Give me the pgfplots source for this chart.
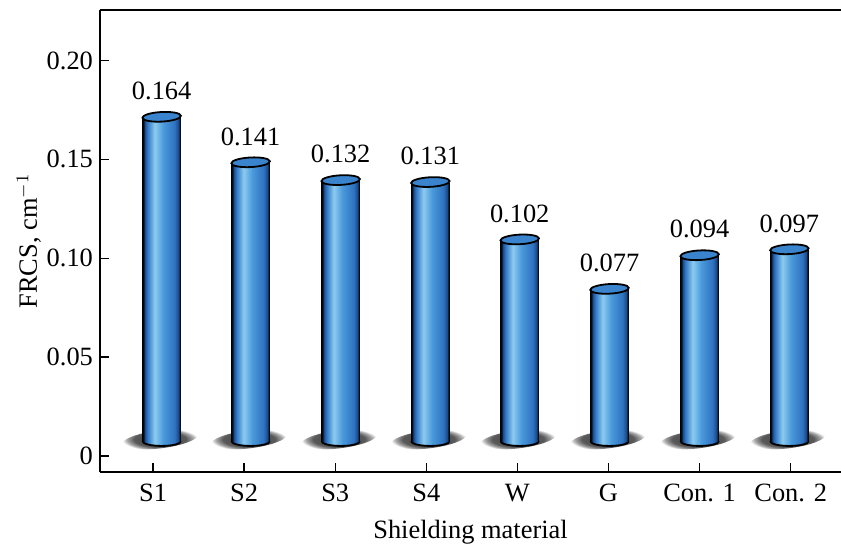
\documentclass[border=0pt]{standalone}
\usepackage{fontspec}
\setmainfont{Liberation Serif}
\usepackage{pgfplots}
\usepackage{pgfplotstable}
\pgfplotsset{compat=1.18}

% cylinder colours
\definecolor{cedge}{HTML}{1A4886}
\definecolor{cone}{HTML}{2C72C2}
\definecolor{chl}{HTML}{8CCBF0}
\definecolor{ctwo}{HTML}{4A9ADB}
\definecolor{cthree}{HTML}{2E72C0}
\definecolor{ctop}{HTML}{3A84CD}

% left-to-right shading of the cylinder wall (black rims, highlight left of centre)
\pgfdeclarehorizontalshading{cylbody}{100bp}{%
  color(0bp)=(black); color(25bp)=(black); color(26.6bp)=(black!75!cedge);
  color(28bp)=(cedge); color(31bp)=(cone); color(41bp)=(chl); color(52bp)=(ctwo);
  color(67bp)=(cthree); color(72bp)=(cedge); color(73.4bp)=(black!75!cedge);
  color(75bp)=(black); color(100bp)=(black)}
% soft floor shadow
\pgfdeclareradialshading{cylshadow}{\pgfpoint{0bp}{0bp}}{%
  color(0bp)=(black!75); color(17bp)=(black!65); color(21.5bp)=(black!35);
  color(25bp)=(white); color(50bp)=(white)}

\newcommand{\cylr}{9.62pt}% half the cylinder width
\newcommand{\cylry}{2.4pt}% half height of the elliptic rims

% floor shadow plus lower rim of the cylinder
\pgfdeclareplotmark{cylbase}{%
  \pgfscope
    \pgftransformshift{\pgfqpoint{-0.8pt}{0.9pt}}%
    \pgftransformrotate{7}%
    \pgfpathellipse{\pgfpointorigin}{\pgfqpoint{19pt}{0pt}}{\pgfqpoint{0pt}{4.5pt}}%
    \pgfshadepath{cylshadow}{0}%
    \pgfusepath{discard}%
  \endpgfscope
  \pgfscope
    \pgfpathellipse{\pgfpointorigin}{\pgfqpoint{\cylr}{0pt}}{\pgfqpoint{0pt}{\cylry}}%
    \pgfshadepath{cylbody}{0}%
    \pgfusepath{discard}%
  \endpgfscope
  \pgfscope
    \pgfsetstrokecolor{black}\pgfsetlinewidth{0.9pt}%
    \pgfpathmoveto{\pgfqpoint{-\cylr}{0pt}}%
    \pgfpatharc{180}{360}{\cylr and \cylry}%
    \pgfusepath{stroke}%
  \endpgfscope
}
% cylinder wall hanging down by the value \vv (in y units), then the lid
\pgfdeclareplotmark{cylwall}{%
  \pgfmathparse{\vv*\pgfplotsunitylength}\let\cylh\pgfmathresult
  \pgfscope
    \pgfpathrectanglecorners{\pgfqpoint{-\cylr}{-\cylh pt}}{\pgfqpoint{\cylr}{0pt}}%
    \pgfshadepath{cylbody}{0}%
    \pgfusepath{discard}%
  \endpgfscope
  \pgfscope
    \pgftransformrotate{3}%
    \pgfpathellipse{\pgfpointorigin}{\pgfqpoint{\cylr}{0pt}}{\pgfqpoint{0pt}{\cylry}}%
    \pgfsetfillcolor{ctop}\pgfsetstrokecolor{black}\pgfsetlinewidth{0.9pt}%
    \pgfusepath{fill,stroke}%
  \endpgfscope
}

% xb: bar centre, base: floor level of the cylinders, v: FRCS
\pgfplotstableread{
xb     base    v
0.095  0.0075  0.164
1.071  0.0075  0.141
2.060  0.0075  0.132
3.044  0.0075  0.131
4.025  0.0075  0.102
5.011  0.0075  0.077
6.000  0.0075  0.094
6.985  0.0075  0.097
}\frcs

\newcommand{\lbl}{\fontsize{13.2}{16}\selectfont}

\begin{document}
\begin{tikzpicture}
\begin{axis}[
  name=ax, disabledatascaling,
  scale only axis, width=370.5pt, height=231pt,
  xmin=-0.582, xmax=7.552, ymin=-0.0081, ymax=0.2255,
  clip=false,
  axis lines*=left,
  axis line style={-, line width=0.65pt, black},
  tick align=inside, major tick length=4.5pt,
  tick style={line width=0.65pt, black},
  xtick={0,...,7},
  xticklabels={S1,S2,S3,S4,W,G,Con. 1,Con. 2},
  ytick={0,0.05,0.10,0.15,0.20},
  yticklabels={0,0.05,0.10,0.15,0.20},
  minor tick num=0,
  tick label style={font=\lbl},
  xticklabel style={anchor=base, yshift=-14.5pt},
  ylabel={FRCS, cm$^{-1}$},
  xlabel={Shielding material},
  every axis y label/.style={at={(rel axis cs:0,0.5)}, xshift=-31.5pt,
    rotate=90, anchor=base, font=\lbl},
  every axis x label/.style={at={(rel axis cs:0.5,0)}, yshift=-33pt,
    anchor=base, font=\lbl},
  extra description/.code={
    \draw[line width=0.65pt] (rel axis cs:0,1) -- (rel axis cs:1,1);},
]
% floor: shadows and lower rims
\addplot[only marks, mark=cylbase] table[x=xb, y=base] {\frcs};
% walls from the floor up by v, lids and value labels
\addplot[only marks, mark=cylwall,
  visualization depends on={\thisrow{v} \as \vv},
  nodes near coords, point meta=explicit symbolic,
  every node near coord/.style={anchor=south, inner sep=0pt,
    yshift=8.25pt, font=\lbl, text=black}]
  table[x=xb, y expr=\thisrow{base}+\thisrow{v}, meta=v] {\frcs};
\end{axis}
\pgfresetboundingbox
\path[use as bounding box]
  ([xshift=-50pt, yshift=-37pt]ax.south west) rectangle ([yshift=5pt]ax.north east);
\end{tikzpicture}
\end{document}
